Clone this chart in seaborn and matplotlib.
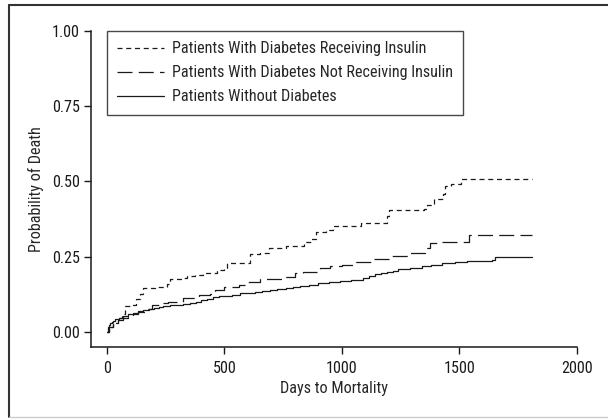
import numpy as np
import pandas as pd
import matplotlib
matplotlib.use("Agg")
import matplotlib.pyplot as plt
import seaborn as sns
from matplotlib.lines import Line2D

# cumulative probability of death
insulin_days = [0, 10, 25, 45, 62, 75, 100, 125, 140, 155, 205, 255, 270, 320, 340,
                375, 410, 470, 500, 510, 560, 610, 650, 690, 760, 840, 870, 890, 930,
                960, 1080, 1190, 1200, 1350, 1360, 1390, 1430, 1440, 1465, 1506, 1810]
insulin_prob = [0.0, 0.015, 0.03, 0.045, 0.06, 0.085, 0.09, 0.11, 0.125, 0.145, 0.148,
                0.16, 0.175, 0.178, 0.186, 0.19, 0.197, 0.205, 0.212, 0.228, 0.23,
                0.259, 0.262, 0.278, 0.285, 0.30, 0.31, 0.333, 0.34, 0.352, 0.362,
                0.385, 0.405, 0.41, 0.422, 0.441, 0.46, 0.485, 0.49, 0.507, 0.507]

noinsulin_days = [0, 10, 25, 45, 70, 90, 110, 132, 160, 190, 230, 260, 323, 390, 440,
                  460, 500, 560, 587, 650, 750, 800, 835, 905, 948, 1000, 1060, 1130,
                  1200, 1280, 1355, 1375, 1420, 1540, 1810]
noinsulin_prob = [0.0, 0.015, 0.03, 0.04, 0.045, 0.05, 0.06, 0.067, 0.075, 0.09, 0.095,
                  0.10, 0.112, 0.123, 0.125, 0.14, 0.15, 0.155, 0.167, 0.176, 0.184,
                  0.195, 0.20, 0.211, 0.219, 0.222, 0.234, 0.244, 0.252, 0.263, 0.278,
                  0.297, 0.30, 0.321, 0.321]

nodiab_days = [0, 3, 6, 10, 13, 20, 27, 34, 50, 69, 90, 110, 130, 154, 180, 200, 220,
               240, 270, 300, 325, 353, 380, 400, 425, 452, 475, 500, 530, 565, 600,
               630, 660, 693, 725, 760, 790, 820, 860, 900, 945, 990, 1040, 1090, 1115,
               1140, 1165, 1190, 1215, 1240, 1290, 1340, 1380, 1425, 1480, 1530, 1590,
               1640, 1650, 1810]
nodiab_prob = [0.0, 0.008, 0.015, 0.022, 0.029, 0.034, 0.038, 0.042, 0.048, 0.053,
               0.058, 0.063, 0.068, 0.073, 0.076, 0.079, 0.082, 0.086, 0.088, 0.091,
               0.094, 0.097, 0.101, 0.106, 0.111, 0.116, 0.118, 0.120, 0.124, 0.128,
               0.131, 0.134, 0.137, 0.140, 0.143, 0.146, 0.149, 0.153, 0.157, 0.162,
               0.166, 0.170, 0.174, 0.178, 0.185, 0.192, 0.196, 0.200, 0.204, 0.208,
               0.213, 0.219, 0.223, 0.228, 0.232, 0.236, 0.237, 0.239, 0.250, 0.250]

labels = ["Patients With Diabetes Receiving Insulin",
          "Patients With Diabetes Not Receiving Insulin",
          "Patients Without Diabetes"]
x_ticks = [0, 500, 1000, 1500, 2000]
y_ticks = [0.00, 0.25, 0.50, 0.75, 1.00]

sns.set_style("ticks")
plt.rcParams["font.family"] = ["Roboto Condensed", "DejaVu Sans"]
fs = 11.6
plt.rcParams["font.size"] = fs

df = pd.concat([
    pd.DataFrame({"days": insulin_days, "prob": insulin_prob, "group": labels[0]}),
    pd.DataFrame({"days": noinsulin_days, "prob": noinsulin_prob, "group": labels[1]}),
    pd.DataFrame({"days": nodiab_days, "prob": nodiab_prob, "group": labels[2]}),
])

dash_styles = [(0, (4, 3)), (0, (12, 5)), "-"]
line_col = "#1a1a1a"

fig = plt.figure(figsize=(6.08, 4.19), dpi=100)
ax = fig.add_axes([91 / 608, 1 - 347 / 419, (577 - 91) / 608, (347 - 31) / 419])

for lab, ls in zip(labels, dash_styles):
    sub = df[df["group"] == lab]
    sns.lineplot(data=sub, x="days", y="prob", ax=ax, color=line_col, linewidth=0.9,
                 linestyle=ls, drawstyle="steps-post", estimator=None, sort=False)

ax.set_xlim(-68, 2000)
ax.set_ylim(-0.05, 1.0)
ax.set_xticks(x_ticks)
ax.set_yticks(y_ticks)
ax.set_yticklabels([f"{v:.2f}" for v in y_ticks])
ax.set_xlabel("Days to Mortality", fontsize=fs, labelpad=4)
ax.set_ylabel("Probability of Death", fontsize=fs, labelpad=6)
ax.tick_params(direction="out", length=5, width=1, colors="#1a1a1a", labelsize=fs, pad=3)
ax.tick_params(axis="x", pad=5)
sns.despine(ax=ax)
for sp in ["left", "bottom"]:
    ax.spines[sp].set_linewidth(1.1)
    ax.spines[sp].set_color("#1a1a1a")

handles = [Line2D([], [], color=line_col, linewidth=0.9, linestyle=ls) for ls in dash_styles]
leg = ax.legend(handles, labels, loc="upper left", bbox_to_anchor=(16 / 486, 1.0),
                borderaxespad=0, frameon=True, fancybox=False, edgecolor="#1a1a1a",
                handlelength=2.9, handletextpad=0.47, borderpad=0.65, labelspacing=0.55,
                fontsize=fs)
leg.get_frame().set_linewidth(1.0)

# outer frame of the figure panel
fig.add_artist(Line2D([9 / 608, 1], [1 - 5 / 419, 1 - 5 / 419], color="#333333", linewidth=1.5,
                      transform=fig.transFigure))
fig.add_artist(Line2D([9 / 608, 9 / 608], [1 - 5 / 419, 1 - 417 / 419], color="#333333",
                      linewidth=1.5, transform=fig.transFigure))
fig.add_artist(Line2D([9 / 608, 1], [1 - 417 / 419, 1 - 417 / 419], color="#cccccc",
                      linewidth=1.0, transform=fig.transFigure))

fig.savefig("out.png", dpi=100)
